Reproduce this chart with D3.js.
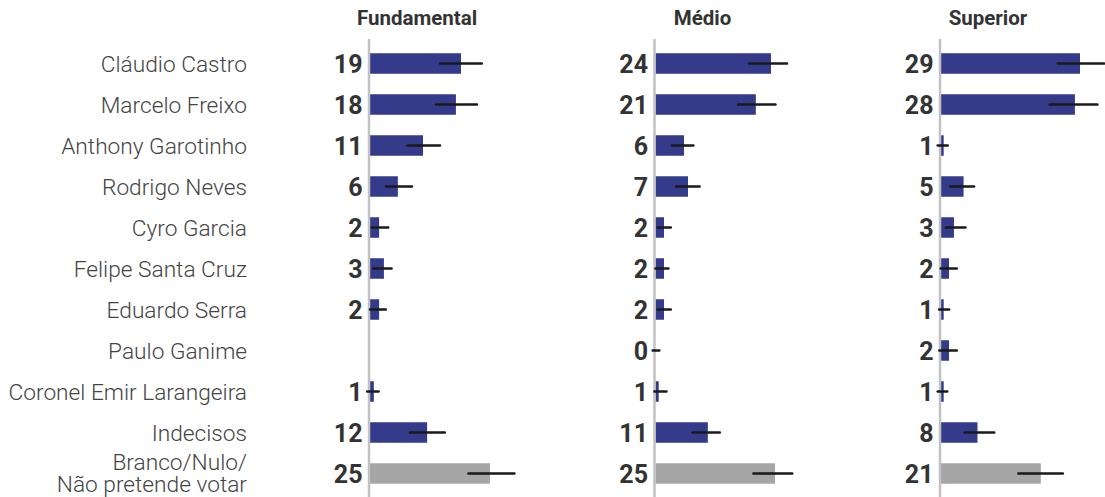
<!DOCTYPE html>
<html>
<head>
<meta charset="utf-8">
<script src="https://cdn.jsdelivr.net/npm/d3@7"></script>
<style>
  html, body { margin: 0; padding: 0; background: #fff; }
  svg { display: block; }
</style>
</head>
<body>
<svg id="chart" width="1105" height="497"></svg>
<script>
// ---- data ----
const candidates = [
  "Cláudio Castro", "Marcelo Freixo", "Anthony Garotinho", "Rodrigo Neves",
  "Cyro Garcia", "Felipe Santa Cruz", "Eduardo Serra", "Paulo Ganime",
  "Coronel Emir Larangeira", "Indecisos", "Branco/Nulo/\nNão pretende votar"
];
const groups = ["Fundamental", "Médio", "Superior"];

const fundamental    = [18.96, 17.9, 11.04, 5.8, 1.9, 2.9, 1.9, null, 0.8, 11.9, 25.0];
const fundamentalLow = [14.6, 13.75, 7.8, 3.3, 0.35, 0.7, 0.0, null, -0.6, 8.3, 20.5];
const fundamentalHigh= [23.3, 22.3, 14.6, 8.75, 3.8, 4.5, 3.3, null, 1.8, 15.6, 30.1];

const medio     = [24.06, 20.9, 5.94, 6.77, 1.77, 1.77, 1.77, 0, 0.67, 10.9, 24.9];
const medioLow  = [19.5, 17.2, 3.4, 4.3, 0.4, 0.0, 0.4, -0.6, -0.25, 7.7, 20.4];
const medioHigh = [27.4, 25.0, 7.9, 9.2, 3.2, 2.7, 3.2, 0.8, 2.3, 13.4, 28.5];

const superior     = [28.96, 27.9, 0.56, 4.7, 2.7, 1.67, 0.56, 1.67, 0.56, 7.6, 20.8];
const superiorLow  = [24.3, 22.6, -0.7, 1.9, 1.0, -0.06, -0.4, -0.35, -0.7, 4.9, 16.1];
const superiorHigh = [34.0, 32.6, 1.4, 6.9, 5.1, 3.3, 1.7, 3.3, 1.3, 11.1, 25.4];

const neutralCategory = "Branco/Nulo/\nNão pretende votar";

// ---- layout ----
const series = [
  { name: groups[0], values: fundamental, low: fundamentalLow, high: fundamentalHigh },
  { name: groups[1], values: medio, low: medioLow, high: medioHigh },
  { name: groups[2], values: superior, low: superiorLow, high: superiorHigh }
];

const svg = d3.select("#chart");
const BLUE = "#343b8b", GREY = "#a6a6a6";

const y = d3.scaleBand().domain(candidates).range([43, 494])
  .paddingInner(0.5).paddingOuter(0.25);
const x = d3.scaleLinear().domain([0, 35]).range([0, 168]);
const panel = d3.scalePoint().domain(groups).range([370, 941]);

// candidate labels
const nameG = svg.append("g");
candidates.forEach(c => {
  const lines = c.split("\n");
  const cy = y(c) + y.bandwidth() / 2;
  const t = nameG.append("text")
    .attr("text-anchor", "end")
    .attr("font-family", "Roboto, 'Noto Sans', sans-serif")
    .attr("font-weight", 300)
    .attr("font-size", 22.7)
    .attr("fill", "#444");
  if (lines.length === 1) {
    t.attr("x", 247).attr("y", cy + 8).text(c);
  } else {
    lines.forEach((ln, i) => {
      t.append("tspan").attr("x", 247).attr("y", cy - 3.5 + i * 22).text(ln);
    });
  }
});

series.forEach(s => {
  const px = panel(s.name);
  const g = svg.append("g").attr("transform", `translate(${px},0)`);

  g.append("text")
    .attr("x", 47).attr("y", 25)
    .attr("text-anchor", "middle")
    .attr("font-family", "Roboto, 'Noto Sans', sans-serif")
    .attr("font-weight", 700)
    .attr("font-size", 20.5)
    .attr("fill", "#333")
    .text(s.name);

  const rows = candidates.map((c, i) => ({ c, v: s.values[i], lo: s.low[i], hi: s.high[i] }))
    .filter(d => d.v !== null);

  g.selectAll("rect.bar").data(rows).enter().append("rect")
    .attr("class", "bar")
    .attr("x", x(0))
    .attr("y", d => y(d.c))
    .attr("width", d => x(d.v) - x(0))
    .attr("height", y.bandwidth())
    .attr("fill", d => d.c === neutralCategory ? GREY : BLUE);

  // axis line
  g.append("line")
    .attr("x1", -1).attr("x2", -1)
    .attr("y1", 39).attr("y2", 497)
    .attr("stroke", "#c2c2c2").attr("stroke-width", 2.5);

  g.selectAll("line.err").data(rows).enter().append("line")
    .attr("class", "err")
    .attr("x1", d => x(d.lo)).attr("x2", d => x(d.hi))
    .attr("y1", d => y(d.c) + y.bandwidth() / 2)
    .attr("y2", d => y(d.c) + y.bandwidth() / 2)
    .attr("stroke", "#1a1a1a").attr("stroke-width", 2.4)
    .attr("stroke-linecap", "round");

  g.selectAll("text.val").data(rows).enter().append("text")
    .attr("class", "val")
    .attr("x", -7.5)
    .attr("y", d => y(d.c) + y.bandwidth() / 2 + 9)
    .attr("text-anchor", "end")
    .attr("font-family", "Roboto, 'Noto Sans', sans-serif")
    .attr("font-weight", 700)
    .attr("font-size", 25)
    .attr("fill", "#333")
    .text(d => Math.round(d.v));
});
</script>
</body>
</html>
